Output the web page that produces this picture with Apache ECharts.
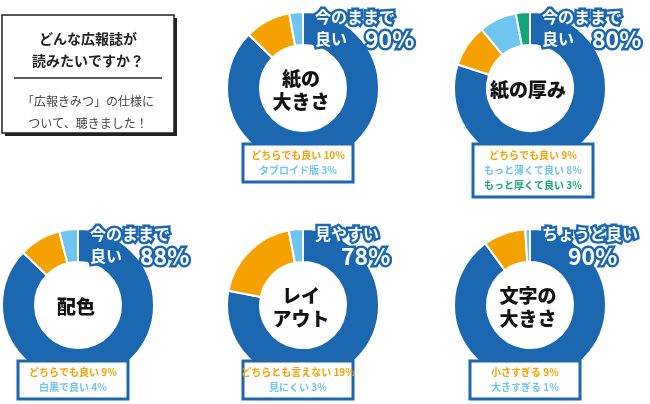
<!DOCTYPE html><html><head><meta charset="utf-8">
<script src="https://cdn.jsdelivr.net/npm/echarts@6/dist/echarts.min.js"></script>
<style>html,body{margin:0;background:#fff}#c{width:650px;height:404px}</style></head><body><div id="c"></div>
<script>
const titles=['紙の\n大きさ','紙の厚み','配色','レイ\nアウト','文字の\n大きさ'];
const mainLabels=['今のままで\n良い','今のままで\n良い','今のままで\n良い','見やすい','ちょうど良い'];
const mainValues=[90,80,88,78,90];
const otherNames=[['どちらでも良い','タブロイド版'],['どちらでも良い','もっと薄くて良い','もっと厚くて良い'],['どちらでも良い','白黒で良い'],['どちらとも言えない','見にくい'],['小さすぎる','大きすぎる']];
const otherValues=[[10,3],[9,8,3],[9,4],[19,3],[9,1]];
const colors=['#1b67b0','#f5a100','#6ec5ef','#13a778'];
const centers=[[303,88],[530,88],[78,305],[303,305],[530,305]];
const F='"Noto Sans CJK JP"';
const series=[],graphic=[];
centers.forEach((c,i)=>{
  const data=[{value:mainValues[i],itemStyle:{color:colors[0]}}].concat(otherValues[i].map((v,j)=>({value:v,itemStyle:{color:colors[1+j]}})));
  series.push({type:'pie',center:c,radius:[43,76],startAngle:90,clockwise:true,silent:true,label:{show:false},
    itemStyle:{borderColor:'#fff',borderWidth:2},data});
  graphic.push({type:'text',z:100,x:c[0]-2,y:c[1]+2,style:{text:titles[i],font:'900 19px '+F,fill:'#111',align:'center',verticalAlign:'middle',lineHeight:23}});
  const two=mainLabels[i].includes('\n');
  const lx=c[0]+12, ly=c[1]-82;
  graphic.push({type:'text',z:100,x:lx,y:ly,style:{text:mainLabels[i],font:'bold 16px '+F,fill:'#fff',stroke:'#1b67b0',lineWidth:5,lineHeight:22}});
  graphic.push({type:'text',z:100,x:lx+(two?50:26),y:ly+22,style:{text:mainValues[i]+'%',font:'bold 23px '+F,fill:'#fff',stroke:'#1b67b0',lineWidth:5}});
  const n=otherValues[i].length, bw=n==3?120:110, bh=n*15+8;
  const bx=c[0]-bw/2+(n==3?3:-5), by=c[1]+56;
  graphic.push({type:'rect',z:100,shape:{x:bx,y:by,width:bw,height:bh},style:{fill:'#fff',stroke:'#1b67b0',lineWidth:3}});
  otherValues[i].forEach((v,j)=>{
    graphic.push({type:'text',z:101,x:bx+bw/2,y:by+6+j*15,style:{text:otherNames[i][j]+' '+v+'%',font:'bold 10px '+F,fill:colors[1+j],align:'center'}});
  });
});
graphic.push({type:'rect',shape:{x:5,y:18,width:172,height:118},style:{fill:'#222'}});
graphic.push({type:'rect',shape:{x:2,y:15,width:172,height:118},style:{fill:'#fff',stroke:'#222',lineWidth:1.5}});
graphic.push({type:'text',x:88,y:28,style:{text:'どんな広報誌が\n読みたいですか？',font:'bold 14px '+F,fill:'#222',align:'center',lineHeight:22}});
graphic.push({type:'line',shape:{x1:14,y1:78,x2:162,y2:78},style:{stroke:'#222',lineWidth:1.5}});
graphic.push({type:'text',x:88,y:90,style:{text:'「広報きみつ」の仕様に\nついて、聴きました！',font:'12px '+F,fill:'#444',align:'center',lineHeight:22}});
const ch=echarts.init(document.getElementById('c'));
ch.setOption({animation:false,series,graphic});
</script></body></html>
